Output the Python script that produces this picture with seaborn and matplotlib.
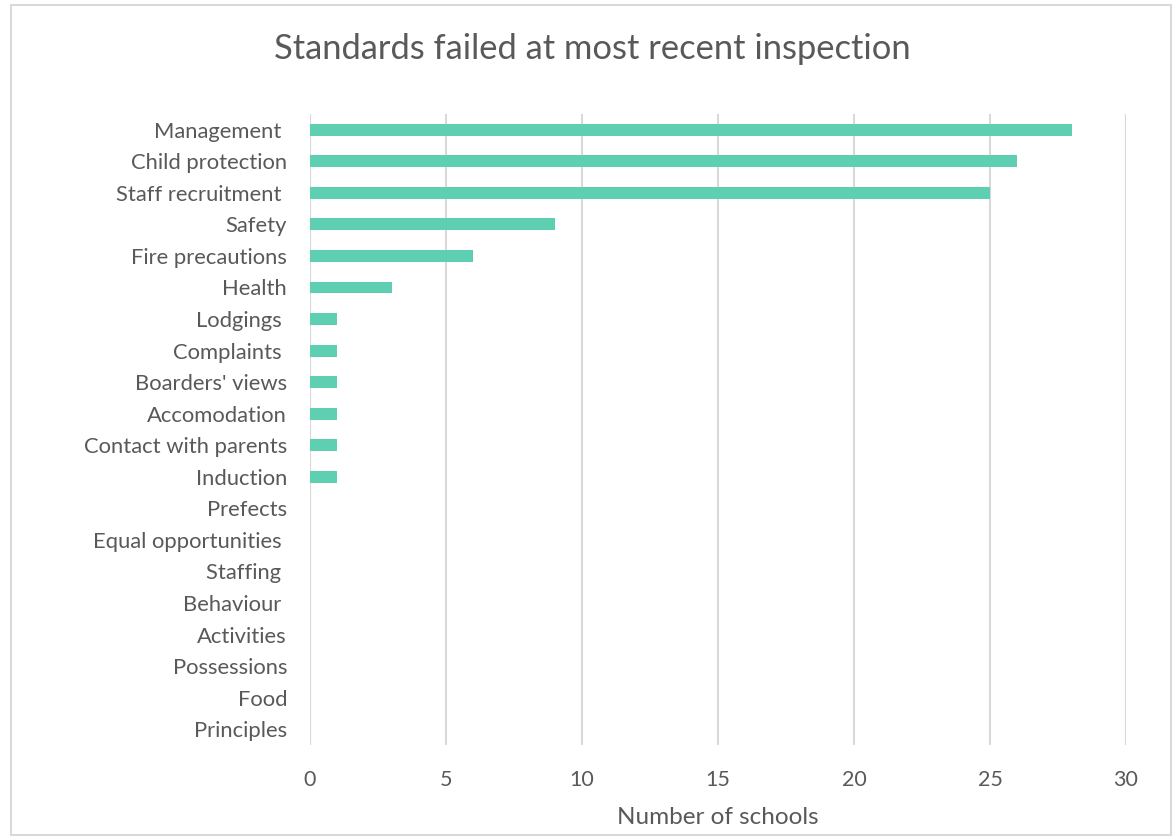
import pandas as pd
import seaborn as sns
import matplotlib.pyplot as plt
from matplotlib.patches import Rectangle

standards = [
    "Management ", "Child protection", "Staff recruitment ", "Safety",
    "Fire precautions", "Health", "Lodgings ", "Complaints ",
    "Boarders' views", "Accomodation", "Contact with parents", "Induction",
    "Prefects", "Equal opportunities ", "Staffing ", "Behaviour ",
    "Activities", "Possessions", "Food", "Principles",
]
num_schools = [28, 26, 25, 9, 6, 3, 1, 1, 1, 1, 1, 1, 0, 0, 0, 0, 0, 0, 0, 0]
x_ticks = [0, 5, 10, 15, 20, 25, 30]

df = pd.DataFrame({"standard": standards, "schools": num_schools})

sns.set_style("white")
plt.rcParams["font.family"] = ["Lato", "DejaVu Sans"]
text_col = "#595959"

fig = plt.figure(figsize=(11.75, 8.38), dpi=100)
ax = fig.add_axes([0.2638, 0.111, 0.6945, 0.753])

sns.barplot(data=df, x="schools", y="standard", color="#5ECFB1",
            width=0.38, saturation=1, linewidth=0, ax=ax, zorder=3)

ax.set_xlim(0, 30)
ax.set_ylim(19.5, -0.5)
ax.set_xticks(x_ticks)
ax.grid(axis="x", color="#d9d9d9", linewidth=1.5, zorder=0)
ax.grid(axis="y", visible=False)
for s in ax.spines.values():
    s.set_visible(False)
ax.tick_params(axis="both", length=0, colors=text_col)
ax.tick_params(axis="x", pad=18, labelsize=15.5)
ax.tick_params(axis="y", pad=16.5, labelsize=15.8)
ax.set_ylabel("")
ax.set_xlabel("Number of schools", fontsize=17.5, color=text_col, labelpad=12)

fig.text(0.504, 0.941, "Standards failed at most recent inspection",
         ha="center", va="center", fontsize=24.8, color=text_col)

fig.patches.append(Rectangle((0.009, 0.003), 0.988, 0.991, transform=fig.transFigure,
                             fill=False, edgecolor="#d9d9d9", linewidth=1.5))

fig.savefig("out.png", dpi=100)
